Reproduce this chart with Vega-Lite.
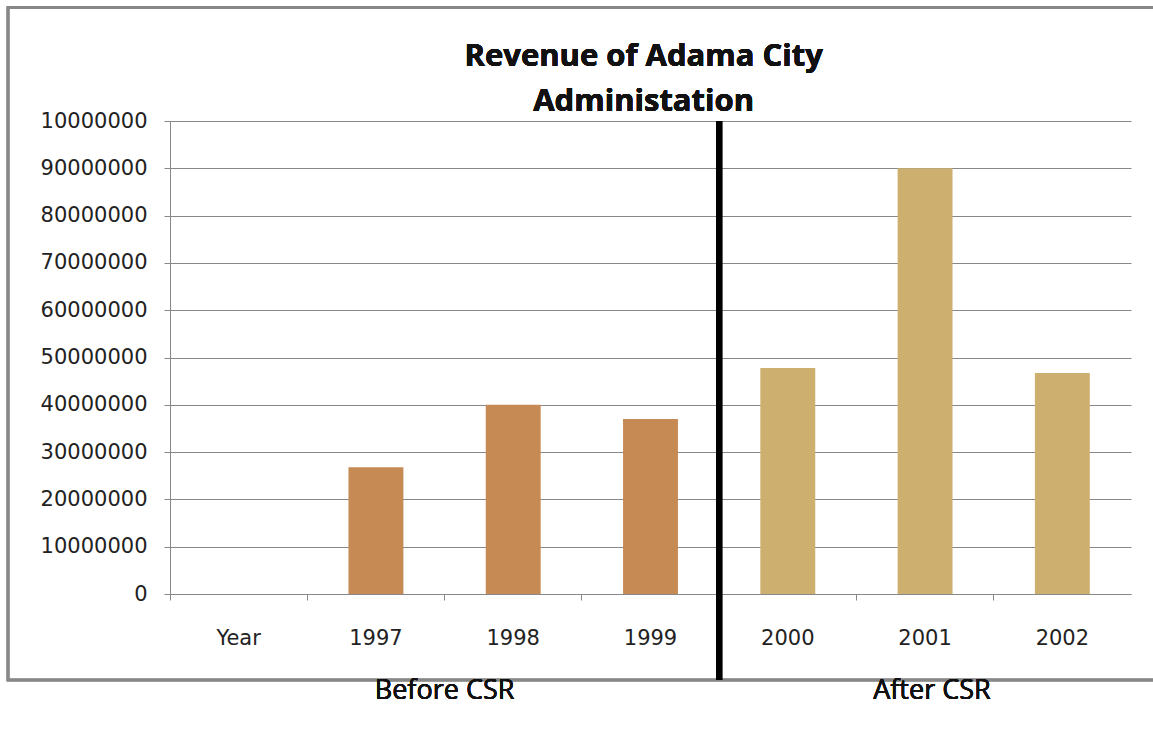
{
  "$schema": "https://vega.github.io/schema/vega-lite/v6.json",
  "width": 961,
  "height": 473,
  "autosize": {"type": "none"},
  "padding": {"left": 170, "top": 121, "right": 22, "bottom": 137},
  "background": "white",
  "config": {"view": {"stroke": null}, "font": "Open Sans"},
  "data": {
    "values": [
      {"year": "1997", "revenue": 26800000, "period": "Before CSR"},
      {"year": "1998", "revenue": 40000000, "period": "Before CSR"},
      {"year": "1999", "revenue": 37000000, "period": "Before CSR"},
      {"year": "2000", "revenue": 47800000, "period": "After CSR"},
      {"year": "2001", "revenue": 90000000, "period": "After CSR"},
      {"year": "2002", "revenue": 46700000, "period": "After CSR"}
    ]
  },
  "layer": [
    {
      "mark": {"type": "bar", "width": {"band": 0.4}},
      "encoding": {
        "x": {
          "field": "year",
          "type": "nominal",
          "sort": null,
          "scale": {"domain": ["Year", "1997", "1998", "1999", "2000", "2001", "2002"], "paddingInner": 0, "paddingOuter": 0},
          "axis": {
            "title": null,
            "labelAngle": 0,
            "bandPosition": 0,
            "grid": false,
            "domainColor": "#888888",
            "tickColor": "#888888",
            "tickSize": 6,
            "labelPadding": 27,
            "labelFont": "DejaVu Sans",
            "labelFontSize": 21,
            "labelColor": "#222222"
          }
        },
        "y": {
          "field": "revenue",
          "type": "quantitative",
          "scale": {"domain": [0, 100000000], "nice": false},
          "axis": {
            "title": null,
            "values": [0, 10000000, 20000000, 30000000, 40000000, 50000000, 60000000, 70000000, 80000000, 90000000, 100000000],
            "labelExpr": "datum.value == 100000000 ? '10000000' : format(datum.value, 'd')",
            "grid": true,
            "gridColor": "#888888",
            "domainColor": "#888888",
            "tickColor": "#888888",
            "tickSize": 6,
            "labelPadding": 17,
            "labelFont": "DejaVu Sans",
            "labelFontSize": 21,
            "labelColor": "#222222"
          }
        },
        "color": {
          "field": "period",
          "type": "nominal",
          "scale": {"domain": ["Before CSR", "After CSR"], "range": ["#c68a55", "#cdb070"]},
          "legend": null
        }
      }
    },
    {
      "mark": {"type": "rect", "fill": null, "filled": false, "stroke": "#888888", "strokeWidth": 2.5, "clip": false},
      "encoding": {
        "x": {"datum": "Year", "bandPosition": -1.18},
        "x2": {"datum": "2002", "bandPosition": 1.3},
        "y": {"datum": 124000000},
        "y2": {"datum": -18200000}
      }
    },
    {
      "mark": {"type": "rule", "color": "black", "strokeWidth": 6, "clip": false},
      "encoding": {
        "x": {"datum": "2000", "bandPosition": 0},
        "y": {"datum": 100000000},
        "y2": {"datum": -18200000}
      }
    },
    {
      "mark": {"type": "text", "fontSize": 31, "fontWeight": "bold", "font": "Open Sans", "color": "#111111", "baseline": "middle", "clip": false},
      "encoding": {
        "x": {"datum": "1999", "bandPosition": 0.45},
        "y": {"datum": 113500000},
        "text": {"value": "Revenue of Adama City"}
      }
    },
    {
      "mark": {"type": "text", "fontSize": 31, "fontWeight": "bold", "font": "Open Sans", "color": "#111111", "baseline": "middle", "clip": false},
      "encoding": {
        "x": {"datum": "1999", "bandPosition": 0.45},
        "y": {"datum": 104000000},
        "text": {"value": "Administation"}
      }
    },
    {
      "mark": {"type": "text", "fontSize": 27, "font": "Open Sans", "color": "#111111", "baseline": "middle", "clip": false},
      "encoding": {
        "x": {"datum": "1998", "bandPosition": 0},
        "y": {"datum": -20500000},
        "text": {"value": "Before CSR"}
      }
    },
    {
      "mark": {"type": "text", "fontSize": 27, "font": "Open Sans", "color": "#111111", "baseline": "middle", "clip": false},
      "encoding": {
        "x": {"datum": "2001", "bandPosition": 0.55},
        "y": {"datum": -20500000},
        "text": {"value": "After CSR"}
      }
    }
  ]
}
